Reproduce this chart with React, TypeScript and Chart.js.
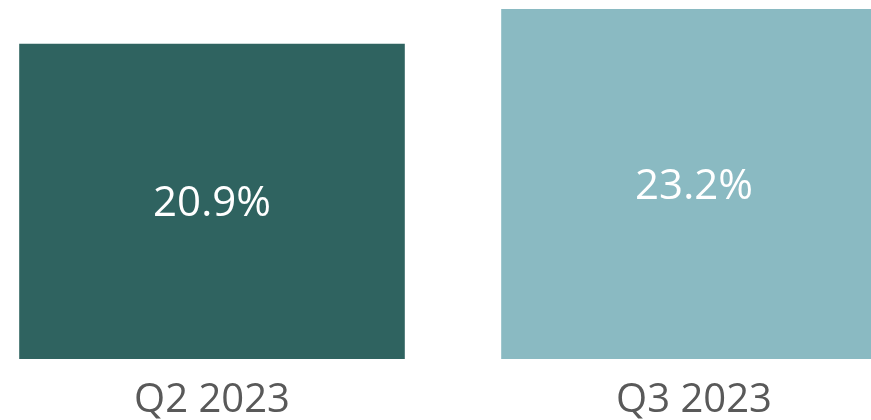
import React, { useEffect, useRef } from "react";
import { Chart, registerables } from "chart.js";

Chart.register(...registerables);

const categories = ["Q2 2023", "Q3 2023"];
const values = [20.9, 23.2];
const barColors = ["#2F6360", "#8ABAC2"];

const FONT = "'Open Sans', 'Noto Sans', sans-serif";

const valueLabels = {
  id: "valueLabels",
  afterDatasetsDraw(chart: any) {
    const ctx = chart.ctx;
    const meta = chart.getDatasetMeta(0);
    ctx.save();
    ctx.fillStyle = "#FFFFFF";
    ctx.font = `42px ${FONT}`;
    ctx.textAlign = "center";
    ctx.textBaseline = "middle";
    meta.data.forEach((bar: any, i: number) => {
      const y = (bar.y + bar.base) / 2;
      ctx.fillText(`${values[i].toFixed(1)}%`, bar.x, y + 3);
    });
    ctx.restore();
  },
};

export default function App() {
  const ref = useRef<HTMLCanvasElement | null>(null);
  useEffect(() => {
    document.documentElement.style.overflow = "hidden";
    document.body.style.overflow = "hidden";
    if (!ref.current) return;
    const chart = new Chart(ref.current, {
      type: "bar",
      data: {
        labels: categories,
        datasets: [
          {
            data: values,
            backgroundColor: barColors,
            categoryPercentage: 0.8,
            barPercentage: 1.0,
          },
        ],
      },
      options: {
        animation: false,
        responsive: false,
        maintainAspectRatio: false,
        layout: { padding: { top: 1, left: 0, right: 0, bottom: 0 } },
        plugins: { legend: { display: false }, tooltip: { enabled: false } },
        scales: {
          x: {
            grid: { display: false },
            border: { display: false },
            ticks: {
              color: "#595959",
              font: { size: 40, family: FONT },
              padding: 10,
              maxRotation: 0,
            },
          },
          y: {
            display: false,
            min: 0,
            max: 23.2,
          },
        },
      },
      plugins: [valueLabels],
    });
    return () => chart.destroy();
  }, []);
  return (
    <div style={{ position: "fixed", left: 0, top: 0, width: 871, height: 420, overflow: "hidden" }}>
      <div style={{ position: "absolute", left: -29, top: 8, width: 964, height: 427 }}>
        <canvas ref={ref} width={964} height={427} style={{ width: 964, height: 427, display: "block" }} />
      </div>
    </div>
  );
}
